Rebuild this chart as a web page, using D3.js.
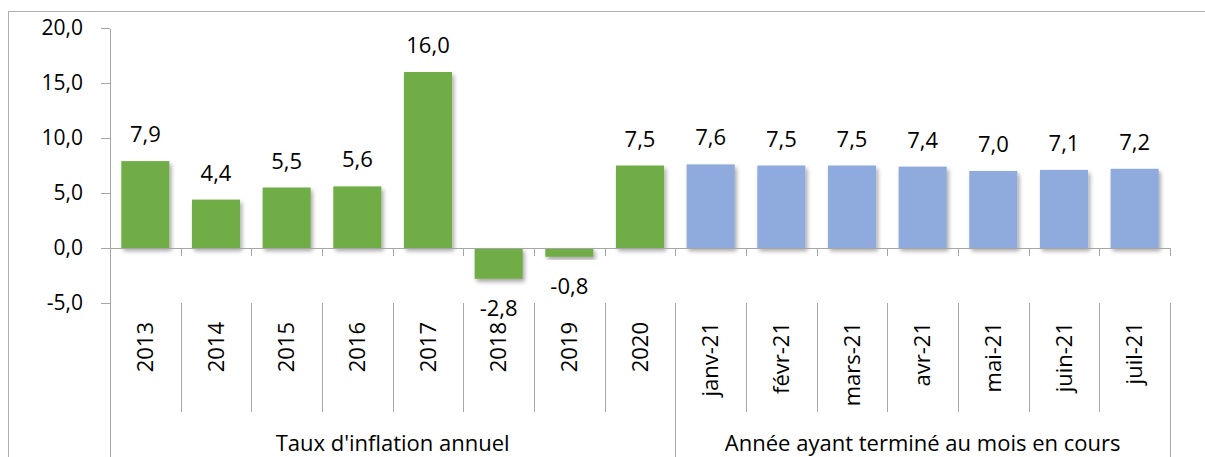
<!DOCTYPE html>
<meta charset="utf-8">
<style>
body { margin: 0; background: #fff; }
text { font-family: "Open Sans", Lato, sans-serif; fill: #000; }
.axis path, .axis line { stroke: #a6a6a6; stroke-width: 1; shape-rendering: crispEdges; }
</style>
<body>
<div id="chart"></div>
<script src="https://cdnjs.cloudflare.com/ajax/libs/d3/7.8.5/d3.min.js"></script>
<script>

// données
var categories = ["2013", "2014", "2015", "2016", "2017", "2018", "2019", "2020",
                  "janv-21", "févr-21", "mars-21", "avr-21", "mai-21", "juin-21", "juil-21"];
var values = [7.9, 4.4, 5.5, 5.6, 16.0, -2.8, -0.8, 7.5, 7.6, 7.5, 7.5, 7.4, 7.0, 7.1, 7.2];
var groupLabels = ["Taux d'inflation annuel", "Année ayant terminé au mois en cours"];
var groupSizes = [8, 7];
var groupColors = ["#70ad47", "#8faadc"];
var yTicks = [-5, 0, 5, 10, 15, 20];

var largeur = 1205;
var hauteur = 457;
var margin = {top: 28, right: 35, bottom: 154, left: 110};

// virgule décimale et tiret simple
var fmt = function(v) { return d3.format(".1f")(v).replace(".", ",").replace("\u2212", "-"); };

const svg = d3.select("#chart")
    .append("svg")
        .attr("width", largeur)
        .attr("height", hauteur);

// ombre des barres
svg.append("defs").append("filter")
        .attr("id", "ombre")
        .attr("x", "-20%").attr("y", "-20%")
        .attr("width", "150%").attr("height", "150%")
    .append("feDropShadow")
        .attr("dx", 2).attr("dy", 3)
        .attr("stdDeviation", 2)
        .attr("flood-color", "#000")
        .attr("flood-opacity", 0.35);

// cadre
svg.append("rect")
    .attr("x", 8.5).attr("y", 11.5)
    .attr("width", largeur + 20).attr("height", hauteur)
    .attr("fill", "none")
    .attr("stroke", "#b0b0b0");

var x = d3.scaleBand()
    .domain(categories)
    .range([margin.left, largeur - margin.right])
    .paddingInner(0.32)
    .paddingOuter(0.16);

var y = d3.scaleLinear()
    .domain([-5, 20])
    .range([hauteur - margin.bottom, margin.top]);

// groupe de chaque catégorie
var groupOf = [];
groupSizes.forEach(function(n, g) { for (var i = 0; i < n; i++) groupOf.push(g); });

// axe des ordonnées
svg.append("g")
    .attr("class", "axis")
    .attr("transform", "translate(" + margin.left + ",0)")
    .call(d3.axisLeft(y).tickValues(yTicks).tickFormat(fmt).tickSize(9).tickSizeOuter(0).tickPadding(18))
    .call(g => g.selectAll("text").style("font-size", "21px").attr("fill", "#000"));

// prolongement de l'axe vers le bas
var x0 = x.range()[0];
var step = x.step();
var yBas = y(-5);

svg.append("line")
    .attr("class", "axis")
    .attr("x1", x0 + 0.5).attr("x2", x0 + 0.5)
    .attr("y1", yBas).attr("y2", hauteur)
    .attr("stroke", "#a6a6a6");

// barres
svg.selectAll(".bar")
    .data(values)
    .enter().append("rect")
        .attr("class", "bar")
        .attr("x", (d, i) => x(categories[i]))
        .attr("width", x.bandwidth())
        .attr("y", d => y(Math.max(0, d)))
        .attr("height", d => Math.abs(y(d) - y(0)))
        .attr("fill", (d, i) => groupColors[groupOf[i]])
        .attr("filter", "url(#ombre)");

// axe des abscisses (à zéro)
var axeX = svg.append("g").attr("class", "axis");
axeX.append("line")
    .attr("x1", x0).attr("x2", x0 + step * categories.length)
    .attr("y1", y(0)).attr("y2", y(0));

var bornes = d3.range(categories.length + 1);
axeX.selectAll(".tick")
    .data(bornes)
    .enter().append("line")
        .attr("x1", k => Math.round(x0 + k * step) + 0.5)
        .attr("x2", k => Math.round(x0 + k * step) + 0.5)
        .attr("y1", y(0))
        .attr("y2", y(0) + 8);

// séparateurs des catégories et des groupes
var limites = [0];
groupSizes.forEach(function(n) { limites.push(limites[limites.length - 1] + n); });

axeX.selectAll(".sep")
    .data(bornes.slice(1))
    .enter().append("line")
        .attr("x1", k => Math.round(x0 + k * step) + 0.5)
        .attr("x2", k => Math.round(x0 + k * step) + 0.5)
        .attr("y1", yBas)
        .attr("y2", k => limites.indexOf(k) >= 0 ? hauteur : yBas + 109);

// libellés des catégories
svg.selectAll(".cat")
    .data(categories)
    .enter().append("text")
        .attr("class", "cat")
        .attr("transform", d => "translate(" + (x(d) + x.bandwidth() / 2) + "," + (yBas + 19) + ") rotate(-90)")
        .attr("text-anchor", "end")
        .attr("dy", "0.35em")
        .style("font-size", "22px")
        .text(d => d);

// libellés des groupes
svg.selectAll(".grp")
    .data(groupLabels)
    .enter().append("text")
        .attr("class", "grp")
        .attr("x", (d, g) => x0 + step * (limites[g] + limites[g + 1]) / 2)
        .attr("y", hauteur - 6)
        .attr("text-anchor", "middle")
        .style("font-size", "22px")
        .text(d => d);

// étiquettes de valeurs
svg.selectAll(".val")
    .data(values)
    .enter().append("text")
        .attr("class", "val")
        .attr("x", (d, i) => x(categories[i]) + x.bandwidth() / 2)
        .attr("y", d => d >= 0 ? y(d) - 19 : y(d) + 37)
        .attr("text-anchor", "middle")
        .style("font-size", "22px")
        .text(d => fmt(d));

</script>
</body>
